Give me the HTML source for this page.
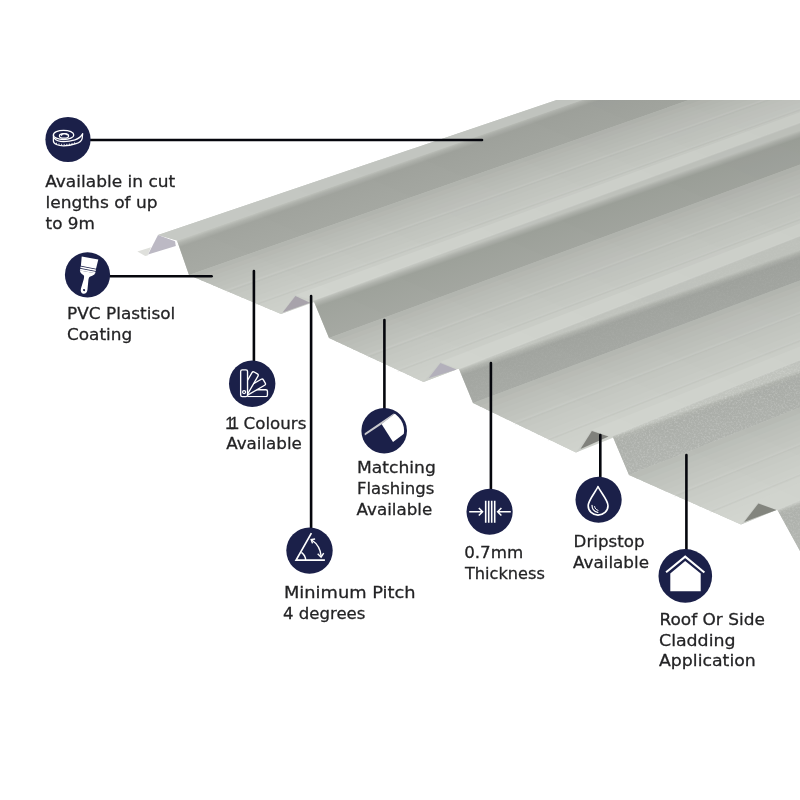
<!DOCTYPE html>
<html lang="en"><head><meta charset="utf-8"><title>Box profile sheet features</title>
<style>
html,body{margin:0;padding:0;background:#fff;}
body{width:800px;height:800px;overflow:hidden;}
svg{display:block}
text{font-family:"DejaVu Sans","Liberation Sans",sans-serif;font-size:16.5px;fill:#232325;stroke:#232325;stroke-width:.28px;}
.n1{font-family:"Liberation Sans",sans-serif;letter-spacing:-3.4px}
#lines line{stroke:#05060c;stroke-width:2.6;stroke-linecap:round}
</style></head><body>
<svg width="800" height="800" viewBox="0 0 800 800">
<defs>
<filter id="nz" x="0" y="0" width="100%" height="100%" color-interpolation-filters="sRGB"><feTurbulence type="fractalNoise" baseFrequency="0.55" numOctaves="2" seed="7" result="t"/><feColorMatrix in="t" type="matrix" values="0 0 0 0 1  0 0 0 0 1  0 0 0 0 1  2.4 0 0 0 -1.05" result="n"/><feComposite in="n" in2="SourceGraphic" operator="in"/></filter>
<filter id="soft" filterUnits="userSpaceOnUse" x="100" y="40" width="760" height="620"><feGaussianBlur stdDeviation="0.6"/></filter>
<filter id="sb" x="-5%" y="-5%" width="110%" height="110%"><feGaussianBlur stdDeviation="0.7"/></filter>
<clipPath id="crop"><rect x="0" y="100" width="800" height="700"/></clipPath>
<linearGradient id="dk0" gradientUnits="userSpaceOnUse" x1="177" y1="240.6" x2="191" y2="280.6"><stop offset="0" stop-color="#c3c6c0"/><stop offset="0.07" stop-color="#b1b4ae"/><stop offset="0.17" stop-color="#a2a59f"/><stop offset="1" stop-color="#a8aba5"/></linearGradient>
<linearGradient id="dk1" gradientUnits="userSpaceOnUse" x1="313.5" y1="300.5" x2="327.5" y2="340.5"><stop offset="0" stop-color="#c3c6c0"/><stop offset="0.07" stop-color="#b1b4ae"/><stop offset="0.17" stop-color="#9fa39c"/><stop offset="1" stop-color="#a6a9a3"/></linearGradient>
<linearGradient id="dk2" gradientUnits="userSpaceOnUse" x1="459" y1="369" x2="473" y2="409"><stop offset="0" stop-color="#c3c6c0"/><stop offset="0.07" stop-color="#b1b4ae"/><stop offset="0.17" stop-color="#a2a5a0"/><stop offset="1" stop-color="#a8aba6"/></linearGradient>
<linearGradient id="dk3" gradientUnits="userSpaceOnUse" x1="612.5" y1="436" x2="626.5" y2="476"><stop offset="0" stop-color="#c3c6c0"/><stop offset="0.07" stop-color="#b1b4ae"/><stop offset="0.17" stop-color="#acafaa"/><stop offset="1" stop-color="#b1b4af"/></linearGradient>
<linearGradient id="dk4" gradientUnits="userSpaceOnUse" x1="777.5" y1="510" x2="791.5" y2="550"><stop offset="0" stop-color="#c3c6c0"/><stop offset="0.07" stop-color="#b1b4ae"/><stop offset="0.17" stop-color="#aeb1ac"/><stop offset="1" stop-color="#b3b6b1"/></linearGradient>
<linearGradient id="fd" gradientUnits="userSpaceOnUse" x1="158" y1="235" x2="300.7" y2="-85.7"><stop offset="0" stop-color="#000" stop-opacity="0"/><stop offset="1" stop-color="#000" stop-opacity="0.035"/></linearGradient>
</defs>
<rect width="800" height="800" fill="#fff"/>
<g clip-path="url(#crop)"><g filter="url(#soft)">
<polygon points="158.0,235.0 820.0,10.9 820.0,800.0 820.0,560.0 800.0,551.0 777.5,510.0 758.0,502.5 741.0,524.5 629.0,475.0 612.5,436.0 591.5,430.0 576.0,452.5 473.0,403.0 459.0,369.0 440.0,362.0 423.5,382.0 329.0,338.0 313.5,300.5 295.0,295.0 281.0,314.0 189.0,275.0 177.0,240.6 158.0,235.0" fill="#cbcec8"/>
<polygon points="189.0,275.0 820.0,54.2 820.0,59.5 196.5,278.2" fill="#b4b7b1"/>
<polygon points="194.8,277.4 820.0,58.3 820.0,63.6 202.2,280.6" fill="#b8bab4"/>
<polygon points="200.5,279.9 820.0,62.4 820.0,67.7 208.0,283.0" fill="#babdb7"/>
<polygon points="206.2,282.3 820.0,66.5 820.0,71.8 213.7,285.5" fill="#bcbfb9"/>
<polygon points="212.0,284.8 820.0,70.6 820.0,75.9 219.5,287.9" fill="#bec1bb"/>
<polygon points="217.8,287.2 820.0,74.7 820.0,80.1 225.2,290.4" fill="#c0c3bd"/>
<polygon points="223.5,289.6 820.0,78.8 820.0,84.2 231.0,292.8" fill="#c2c5bf"/>
<polygon points="229.2,292.1 820.0,82.9 820.0,88.3 236.7,295.2" fill="#c3c6c0"/>
<polygon points="235.0,294.5 820.0,87.1 820.0,92.4 242.5,297.7" fill="#c5c8c2"/>
<polygon points="240.8,296.9 820.0,91.2 820.0,96.5 248.2,300.1" fill="#c6c9c3"/>
<polygon points="246.5,299.4 820.0,95.3 820.0,100.6 254.0,302.5" fill="#c8cbc5"/>
<polygon points="252.2,301.8 820.0,99.4 820.0,104.7 259.7,305.0" fill="#c9ccc6"/>
<polygon points="258.0,304.2 820.0,103.5 820.0,108.9 265.5,307.4" fill="#cbcec8"/>
<polygon points="263.8,306.7 820.0,107.6 820.0,113.0 271.2,309.9" fill="#cccfc9"/>
<polygon points="269.5,309.1 820.0,111.7 820.0,117.1 277.0,312.3" fill="#cdd0ca"/>
<polygon points="275.2,311.6 820.0,115.8 820.0,120.0 281.0,314.0" fill="#ced1cb"/>
<polygon points="329.0,338.0 820.0,157.3 820.0,163.3 336.7,341.6" fill="#b4b7b1"/>
<polygon points="334.9,340.8 820.0,161.9 820.0,168.0 342.6,344.3" fill="#b8bab4"/>
<polygon points="340.8,343.5 820.0,166.6 820.0,172.6 348.5,347.1" fill="#babdb7"/>
<polygon points="346.7,346.2 820.0,171.2 820.0,177.2 354.4,349.8" fill="#bcbfb9"/>
<polygon points="352.6,349.0 820.0,175.8 820.0,181.8 360.3,352.6" fill="#bec1bb"/>
<polygon points="358.5,351.8 820.0,180.4 820.0,186.5 366.2,355.3" fill="#c0c3bd"/>
<polygon points="364.4,354.5 820.0,185.1 820.0,191.1 372.1,358.1" fill="#c2c5bf"/>
<polygon points="370.3,357.2 820.0,189.7 820.0,195.7 378.0,360.8" fill="#c3c6c0"/>
<polygon points="376.2,360.0 820.0,194.3 820.0,200.3 383.9,363.6" fill="#c5c8c2"/>
<polygon points="382.2,362.8 820.0,198.9 820.0,205.0 389.8,366.3" fill="#c6c9c3"/>
<polygon points="388.1,365.5 820.0,203.6 820.0,209.6 395.7,369.1" fill="#c8cbc5"/>
<polygon points="394.0,368.2 820.0,208.2 820.0,214.2 401.6,371.8" fill="#c9ccc6"/>
<polygon points="399.9,371.0 820.0,212.8 820.0,218.8 407.6,374.6" fill="#cbcec8"/>
<polygon points="405.8,373.8 820.0,217.5 820.0,223.5 413.5,377.3" fill="#cccfc9"/>
<polygon points="411.7,376.5 820.0,222.1 820.0,228.1 419.4,380.1" fill="#cdd0ca"/>
<polygon points="417.6,379.2 820.0,226.7 820.0,231.3 423.5,382.0" fill="#ced1cb"/>
<polygon points="473.0,403.0 820.0,272.9 820.0,279.5 481.4,407.0" fill="#b6b9b3"/>
<polygon points="479.4,406.1 820.0,278.0 820.0,284.7 487.8,410.1" fill="#babcb6"/>
<polygon points="485.9,409.2 820.0,283.1 820.0,289.8 494.2,413.2" fill="#bcbfb9"/>
<polygon points="492.3,412.3 820.0,288.3 820.0,294.9 500.7,416.3" fill="#bec1bb"/>
<polygon points="498.8,415.4 820.0,293.4 820.0,300.0 507.1,419.4" fill="#c0c3bd"/>
<polygon points="505.2,418.5 820.0,298.5 820.0,305.2 513.6,422.5" fill="#c2c5bf"/>
<polygon points="511.6,421.6 820.0,303.6 820.0,310.3 520.0,425.6" fill="#c4c7c1"/>
<polygon points="518.1,424.7 820.0,308.8 820.0,315.4 526.4,428.7" fill="#c5c8c2"/>
<polygon points="524.5,427.8 820.0,313.9 820.0,320.6 532.9,431.8" fill="#c7cac4"/>
<polygon points="530.9,430.8 820.0,319.0 820.0,325.7 539.3,434.9" fill="#c8cbc5"/>
<polygon points="537.4,433.9 820.0,324.1 820.0,330.8 545.7,438.0" fill="#cacdc7"/>
<polygon points="543.8,437.0 820.0,329.3 820.0,335.9 552.2,441.1" fill="#cbcec8"/>
<polygon points="550.2,440.1 820.0,334.4 820.0,341.1 558.6,444.1" fill="#cdd0ca"/>
<polygon points="556.7,443.2 820.0,339.5 820.0,346.2 565.1,447.2" fill="#ced1cb"/>
<polygon points="563.1,446.3 820.0,344.6 820.0,351.3 571.5,450.3" fill="#cfd2cc"/>
<polygon points="569.6,449.4 820.0,349.8 820.0,354.9 576.0,452.5" fill="#d0d3cd"/>
<polygon points="629.0,475.0 820.0,399.6 820.0,407.0 638.1,479.0" fill="#b9bcb6"/>
<polygon points="636.0,478.1 820.0,405.3 820.0,412.8 645.1,482.1" fill="#bcc0ba"/>
<polygon points="643.0,481.2 820.0,411.1 820.0,418.6 652.1,485.2" fill="#bfc2bc"/>
<polygon points="650.0,484.3 820.0,416.8 820.0,424.3 659.1,488.3" fill="#c1c4be"/>
<polygon points="657.0,487.4 820.0,422.6 820.0,430.1 666.1,491.4" fill="#c3c6c0"/>
<polygon points="664.0,490.5 820.0,428.4 820.0,435.8 673.1,494.5" fill="#c5c8c2"/>
<polygon points="671.0,493.6 820.0,434.1 820.0,441.6 680.1,497.6" fill="#c7cac4"/>
<polygon points="678.0,496.7 820.0,439.9 820.0,447.4 687.1,500.7" fill="#c8cbc5"/>
<polygon points="685.0,499.8 820.0,445.6 820.0,453.1 694.1,503.8" fill="#cacdc7"/>
<polygon points="692.0,502.8 820.0,451.4 820.0,458.9 701.1,506.9" fill="#cbcec8"/>
<polygon points="699.0,505.9 820.0,457.2 820.0,464.6 708.1,510.0" fill="#cdd0ca"/>
<polygon points="706.0,509.0 820.0,462.9 820.0,470.4 715.1,513.1" fill="#ced1cb"/>
<polygon points="713.0,512.1 820.0,468.7 820.0,476.2 722.1,516.1" fill="#d0d3cd"/>
<polygon points="720.0,515.2 820.0,474.4 820.0,481.9 729.1,519.2" fill="#d1d4ce"/>
<polygon points="727.0,518.3 820.0,480.2 820.0,487.7 736.1,522.3" fill="#d2d5cf"/>
<polygon points="734.0,521.4 820.0,486.0 820.0,491.7 741.0,524.5" fill="#d3d6d0"/>
<polygon points="158.0,235.0 820.0,10.9 820.0,17.5 177.0,240.6" fill="#c6c9c4"/>
<polygon points="177.0,240.6 820.0,17.5 820.0,54.2 189.0,275.0" fill="url(#dk0)"/>
<line x1="177" y1="240.6" x2="820.0" y2="17.5" stroke="#dcdeda" stroke-width="1.2" opacity="0"/>
<polygon points="295.0,295.0 820.0,105.0 820.0,115.6 313.5,300.5" fill="#d1d4ce"/>
<polygon points="313.5,300.5 820.0,115.6 820.0,157.3 329.0,338.0" fill="url(#dk1)"/>
<line x1="313.5" y1="300.5" x2="820.0" y2="115.6" stroke="#dcdeda" stroke-width="1.2" opacity="0.3"/>
<polygon points="440.0,362.0 820.0,215.7 820.0,228.2 459.0,369.0" fill="#d1d4ce"/>
<polygon points="459.0,369.0 820.0,228.2 820.0,272.9 473.0,403.0" fill="url(#dk2)"/>
<polygon points="459.0,369.0 820.0,228.2 820.0,272.9 473.0,403.0" fill="#fff" filter="url(#nz)" opacity="0.05"/>
<line x1="459" y1="369" x2="820.0" y2="228.2" stroke="#dcdeda" stroke-width="1.2" opacity="0.3"/>
<polygon points="591.5,430.0 820.0,338.6 820.0,352.0 612.5,436.0" fill="#d1d4ce"/>
<polygon points="612.5,436.0 820.0,352.0 820.0,399.6 629.0,475.0" fill="url(#dk3)"/>
<polygon points="612.5,436.0 820.0,352.0 820.0,399.6 629.0,475.0" fill="#fff" filter="url(#nz)" opacity="0.2"/>
<line x1="612.5" y1="436" x2="820.0" y2="352.0" stroke="#dcdeda" stroke-width="1.2" opacity="0.3"/>
<polygon points="758.0,502.5 820.0,476.5 820.0,492.1 777.5,510.0" fill="#d1d4ce"/>
<polygon points="777.5,510.0 820.0,492.1 820.0,542.8 800.0,551.0" fill="url(#dk4)"/>
<polygon points="777.5,510.0 820.0,492.1 820.0,542.8 800.0,551.0" fill="#fff" filter="url(#nz)" opacity="0.16"/>
<line x1="777.5" y1="510" x2="820.0" y2="492.1" stroke="#dcdeda" stroke-width="1.2" opacity="0.3"/>
<g filter="url(#sb)">
<line x1="225.8" y1="290.6" x2="820.0" y2="80.3" stroke="#d6d8d4" stroke-width="1.6" opacity=".2"/>
<line x1="226.4" y1="292.2" x2="820.0" y2="81.7" stroke="#aeb1ab" stroke-width="1.3" opacity=".16"/>
<line x1="255.2" y1="303.1" x2="820.0" y2="101.3" stroke="#d6d8d4" stroke-width="1.6" opacity=".2"/>
<line x1="255.8" y1="304.7" x2="820.0" y2="102.7" stroke="#aeb1ab" stroke-width="1.3" opacity=".16"/>
<line x1="366.8" y1="355.6" x2="820.0" y2="186.6" stroke="#d6d8d4" stroke-width="1.6" opacity=".2"/>
<line x1="367.4" y1="357.2" x2="820.0" y2="188.0" stroke="#aeb1ab" stroke-width="1.3" opacity=".16"/>
<line x1="397.0" y1="369.7" x2="820.0" y2="210.4" stroke="#d6d8d4" stroke-width="1.6" opacity=".2"/>
<line x1="397.6" y1="371.3" x2="820.0" y2="211.8" stroke="#aeb1ab" stroke-width="1.3" opacity=".16"/>
<line x1="514.2" y1="422.8" x2="820.0" y2="305.1" stroke="#d6d8d4" stroke-width="1.6" opacity=".2"/>
<line x1="514.8" y1="424.4" x2="820.0" y2="306.5" stroke="#aeb1ab" stroke-width="1.3" opacity=".16"/>
<line x1="547.2" y1="438.6" x2="820.0" y2="331.4" stroke="#d6d8d4" stroke-width="1.6" opacity=".2"/>
<line x1="547.8" y1="440.2" x2="820.0" y2="332.8" stroke="#aeb1ab" stroke-width="1.3" opacity=".16"/>
<line x1="673.8" y1="494.8" x2="820.0" y2="435.9" stroke="#d6d8d4" stroke-width="1.6" opacity=".2"/>
<line x1="674.4" y1="496.4" x2="820.0" y2="437.3" stroke="#aeb1ab" stroke-width="1.3" opacity=".16"/>
<line x1="709.6" y1="510.6" x2="820.0" y2="465.5" stroke="#d6d8d4" stroke-width="1.6" opacity=".2"/>
<line x1="710.2" y1="512.2" x2="820.0" y2="466.9" stroke="#aeb1ab" stroke-width="1.3" opacity=".16"/>
</g>
<polygon points="148.0,254.4 158.0,235.0 175.0,241.2 175.8,246.1" fill="#bcb9c4"/>
<polygon points="137.4,251.4 151.0,247.2 147.6,255.6 145.2,255.9" fill="#dfe0dc"/>
<polygon points="281.0,314.0 295.0,295.0 310.0,302.7" fill="#c9ccc7"/>
<polygon points="282.6,312.6 295.4,295.9 310.0,302.7" fill="#a8a3ab"/>
<polygon points="423.5,382.0 440.0,362.0 456.5,369.6" fill="#c9ccc7"/>
<polygon points="428.5,378.3 440.4,362.9 456.5,369.6" fill="#b3b0bb"/>
<polygon points="576.0,452.5 591.5,430.0 608.5,436.6" fill="#c9ccc7"/>
<polygon points="580.5,449.1 591.9,430.9 608.5,436.6" fill="#80817b"/>
<polygon points="741.0,524.5 758.0,502.5 776.5,510.0" fill="#c9ccc7"/>
<polygon points="744.2,521.9 758.4,503.4 776.5,510.0" fill="#83857e"/>
<polygon points="158.0,235.0 820.0,10.9 820.0,800.0 820.0,560.0 800.0,551.0 777.5,510.0 758.0,502.5" fill="url(#fd)"/>
</g></g>
<g id="lines">
<line x1="90.5" y1="140" x2="482" y2="140"/>
<line x1="110" y1="276.3" x2="211.6" y2="276.3"/>
<line x1="253.9" y1="271" x2="253.9" y2="362"/>
<line x1="311.1" y1="296" x2="311.1" y2="528"/>
<line x1="384.4" y1="320" x2="384.4" y2="409"/>
<line x1="490.9" y1="363" x2="490.9" y2="490"/>
<line x1="600.3" y1="435" x2="600.3" y2="478"/>
<line x1="686.4" y1="455" x2="686.4" y2="550"/>
</g>
<g id="icons">
<g transform="translate(68 139.5)"><circle cx="0" cy="0" r="22.6" fill="#1b2049"/>
<g fill="none" stroke="#fff" stroke-width="1.25" stroke-linecap="round" stroke-linejoin="round">
<ellipse cx="-4.4" cy="-4.6" rx="10.2" ry="4.6"/>
<path d="M-14.6 -4.6V1.6C-14.6 4.4 -10 6.4 -4.4 6.4C-0.5 6.4 4 5.6 8 4.2C11.5 3 13.8 1.2 14.2 -1.2L14.6 -5.6"/>
<path d="M-13.6 -1.2C-12 1 -8.5 2 -4.4 2C-0.5 2 3.5 1.4 7 0.3C10.4 -0.8 13 -2.4 14.6 -5.6"/>
<ellipse cx="-4" cy="-3.6" rx="4.6" ry="2.2"/>
<path d="M-6.4 -4.2C-6.4 -5.4 -5.2 -6 -3.6 -6C-2 -6 -0.8 -5.4 -0.8 -4.6"/>
</g>
<path d="M-11.5 3.2v1.6M-9 4v1.6M-6.4 4.3v1.7M-3.8 4.4v1.7M-1.2 4.3v1.7M1.4 4v1.7M4 3.5v1.7M6.6 2.8v1.6" stroke="#fff" stroke-width=".8" fill="none"/>
</g>
<g transform="translate(87.5 274.8)"><circle cx="0" cy="0" r="22.6" fill="#1b2049"/>
<g transform="translate(-0.7 .5) rotate(11)" fill="#fff">
<polygon points="-8.6,-17.6 8.3,-17.6 7.8,-8.2 -7.6,-8.2"/>
<rect x="-7.7" y="-7.4" width="15.6" height="1.5"/>
<rect x="-7.7" y="-5.1" width="15.6" height="1.6"/>
<path d="M-7.7 -3.5H7.9C7.4 -1.4 5.4 -0.4 3.6 .4C2.4 1.2 2.3 2.6 2.5 4.6L3.4 14C3.6 16.8 2.2 18.8 .1 18.8C-2 18.8 -3.4 16.8 -3.2 14L-2.3 4.6C-2.1 2.6 -2.2 1.2 -3.4 .4C-5.2 -0.4 -7.2 -1.4 -7.7 -3.5Z"/>
<circle cx=".1" cy="15" r="1.1" fill="#1b2049"/>
</g></g>
<g transform="translate(252.2 383.75)"><circle cx="0" cy="0" r="23.2" fill="#1b2049"/>
<g transform="translate(-8.1 9.4)">
<clipPath id="swc"><rect x="3.4" y="-30" width="30" height="34.2"/></clipPath>
<g clip-path="url(#swc)"><g transform="rotate(90)"><rect x="-3.45" y="-23.35" width="6.9" height="26.8" rx="1.6" fill="#1b2049" stroke="#fff" stroke-width="1.35"/></g><g transform="rotate(60)"><rect x="-3.45" y="-23.35" width="6.9" height="26.8" rx="1.6" fill="#1b2049" stroke="#fff" stroke-width="1.35"/></g><g transform="rotate(30)"><rect x="-3.45" y="-23.35" width="6.9" height="26.8" rx="1.6" fill="#1b2049" stroke="#fff" stroke-width="1.35"/></g></g><rect x="-3.45" y="-23.35" width="6.9" height="26.8" rx="1.6" fill="#1b2049" stroke="#fff" stroke-width="1.35"/>
<circle cx="0" cy="-1.1" r="1.5" fill="none" stroke="#fff" stroke-width="1.2"/>
</g></g>
<g transform="translate(384.2 430.75)"><circle cx="0" cy="0" r="22.8" fill="#1b2049"/>
<clipPath id="fl"><circle cx="0" cy="0" r="19.9"/></clipPath>
<g clip-path="url(#fl)">
<polygon points="-2.8,-6.9 22.6,-26.3 34.2,-8.1 8.8,11.3" fill="#fff"/>
<polygon points="-20.2,2.9 9.9,-17.4 9.9,-16.6 -2.8,-6.3 -19.8,5.0" fill="#c9c9cd"/>
</g></g>
<g transform="translate(309.5 550.6)"><circle cx="0" cy="0" r="23.2" fill="#1b2049"/>
<g fill="none" stroke="#fff" stroke-width="1.7" stroke-linecap="butt" stroke-linejoin="miter">
<path d="M1.9 -17.4L-13.4 9.6H15.4"/>
<path d="M-8.1 1.8C-5.6 3.6 -4 6.4 -3.8 9.6" stroke-width="1.4"/>
<path d="M2.2 -10.6C7.6 -7 11 -1.4 11.6 5.4" stroke-width="1.4"/>
<path d="M5.6 -11.6L1.7 -11.1L3 -7.2" stroke-width="1.4"/>
<path d="M8.2 3.2L11.6 6.6L14.2 2.6" stroke-width="1.4"/>
</g></g>
<g transform="translate(489.6 511.75)"><circle cx="0" cy="0" r="23.1" fill="#1b2049"/>
<g fill="none" stroke="#fff" stroke-width="1.6">
<path d="M-3.9 -10.9V10.9M-0.9 -10.9V10.9M2.1 -10.9V10.9M5.1 -10.9V10.9"/>
<path d="M-20.4 0H-7.2M-10.8 -3.8L-7 0L-10.8 3.8M21.2 0H8.2M11.8 -3.8L8 0L11.8 3.8" stroke-width="1.5"/>
</g></g>
<g transform="translate(598.6 499.75)"><circle cx="0" cy="0" r="23.1" fill="#1b2049"/>
<g fill="none" stroke="#fff" stroke-width="1.65" stroke-linejoin="round" stroke-linecap="round">
<path d="M-0.6 -13.2C-3 -7.6 -10.4 0.2 -10.4 6C-10.4 11.4 -6 15.4 -0.6 15.4C4.8 15.4 9.4 11.4 9.4 6C9.4 0.2 1.8 -7.6 -0.6 -13.2Z"/>
<path d="M-6.6 5.6C-6.6 9.2 -4.2 12 -0.8 12.6" stroke-width="1.2"/>
<path d="M-4 6.8C-3.6 8.8 -2.6 10 -0.6 10.6" stroke-width="1"/>
</g></g>
<g transform="translate(685.3 575.9)"><circle cx="0" cy="0" r="26.8" fill="#1b2049"/>
<polygon points="-15,15.3 -15,-2.4 -0.1,-15 15.4,-2.4 15.4,15.3" fill="#fff"/>
<path d="M-19.2 -3.7L-0.1 -19.2L19.1 -3.4" fill="none" stroke="#fff" stroke-width="2.1"/>
</g>
</g>
<g id="labels" opacity="0.999">
<text x="45.2" y="186.5" textLength="130" lengthAdjust="spacingAndGlyphs">Available in cut</text>
<text x="45.6" y="207.5" textLength="112" lengthAdjust="spacingAndGlyphs">lengths of up</text>
<text x="45.6" y="228.5" textLength="49.3" lengthAdjust="spacingAndGlyphs">to 9m</text>
<text x="67" y="319" textLength="108.3" lengthAdjust="spacingAndGlyphs">PVC Plastisol</text>
<text x="67" y="339.8" textLength="65.2" lengthAdjust="spacingAndGlyphs">Coating</text>
<text x="226.4" y="428.5"><tspan class="n1" dx="-1.2">11</tspan> <tspan x="243.6" textLength="62.8" lengthAdjust="spacingAndGlyphs">Colours</tspan></text>
<text x="226.2" y="449.2" textLength="75.7" lengthAdjust="spacingAndGlyphs">Available</text>
<text x="357" y="473.2" textLength="78.8" lengthAdjust="spacingAndGlyphs">Matching</text>
<text x="357" y="494.1" textLength="77.3" lengthAdjust="spacingAndGlyphs">Flashings</text>
<text x="356.6" y="514.9" textLength="75.7" lengthAdjust="spacingAndGlyphs">Available</text>
<text x="284" y="598" textLength="131.6" lengthAdjust="spacingAndGlyphs">Minimum Pitch</text>
<text x="283" y="618.8" textLength="82.4" lengthAdjust="spacingAndGlyphs">4 degrees</text>
<text x="464.2" y="558.4" textLength="59" lengthAdjust="spacingAndGlyphs">0.7mm</text>
<text x="465" y="579.2" textLength="79.8" lengthAdjust="spacingAndGlyphs">Thickness</text>
<text x="573.6" y="547.4" textLength="70.9" lengthAdjust="spacingAndGlyphs">Dripstop</text>
<text x="573" y="567.8" textLength="76" lengthAdjust="spacingAndGlyphs">Available</text>
<text x="659.4" y="625.2" textLength="105.5" lengthAdjust="spacingAndGlyphs">Roof Or Side</text>
<text x="659" y="645.8" textLength="76.5" lengthAdjust="spacingAndGlyphs">Cladding</text>
<text x="659" y="666.2" textLength="96.8" lengthAdjust="spacingAndGlyphs">Application</text>
</g>
</svg>
</body></html>
